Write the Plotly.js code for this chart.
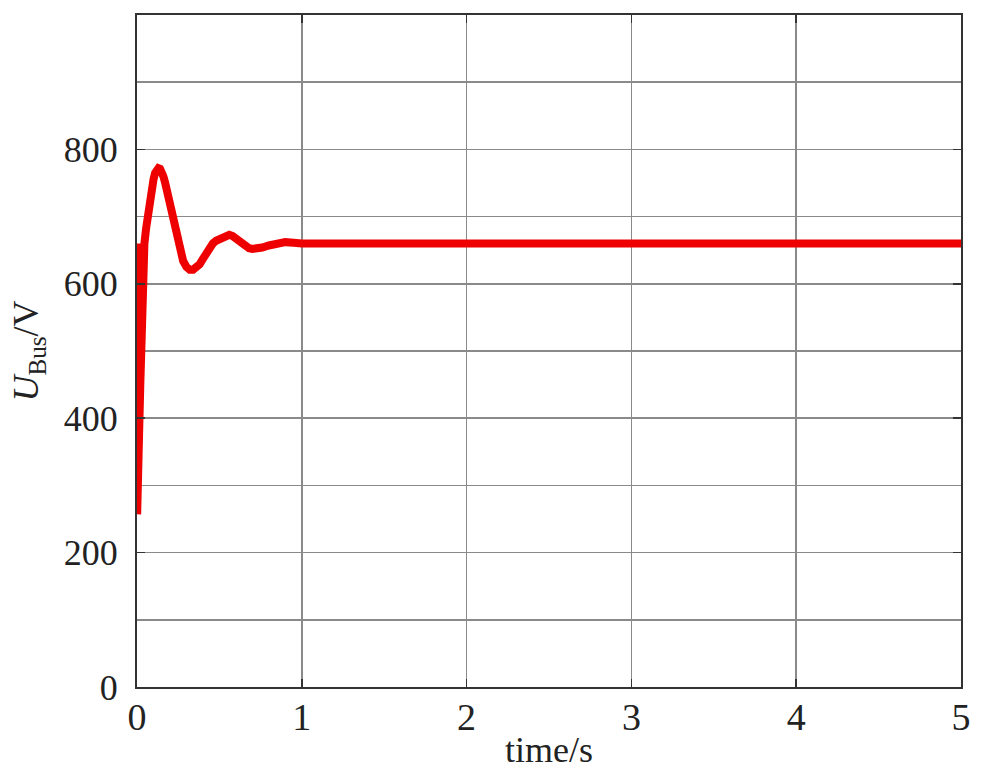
<!DOCTYPE html>
<html>
<head>
<meta charset="utf-8">
<script src="https://cdn.plot.ly/plotly-3.0.1.min.js"></script>
<style>html,body{margin:0;padding:0;background:#fff;}#chart{width:983px;height:775px;}</style>
</head>
<body>
<div id="chart"></div>
<script>
const timeS = [0, 0.001, 0.01, 0.02, 0.03, 0.045, 0.055, 0.06, 0.07, 0.08, 0.09, 0.10, 0.11, 0.12, 0.13, 0.14, 0.15, 0.16, 0.17, 0.18, 0.19, 0.20, 0.22, 0.24, 0.26, 0.28, 0.30, 0.32, 0.34, 0.36, 0.38, 0.40, 0.42, 0.44, 0.46, 0.48, 0.50, 0.52, 0.54, 0.56, 0.58, 0.60, 0.62, 0.64, 0.66, 0.68, 0.70, 0.73, 0.76, 0.80, 0.85, 0.90, 0.95, 1.0, 1.2, 1.5, 2, 2.5, 3, 3.5, 4, 4.5, 5];
const uBus = [660, 257, 350, 450, 560, 660, 682, 692, 705, 722, 740, 755, 765, 770, 772, 771, 767, 760, 751, 740, 728, 716, 692, 668, 648, 634, 625, 621, 621, 624, 629, 637, 646, 654, 660, 664, 667, 670, 672, 673, 671, 667, 662, 658, 655, 653, 652, 652, 654, 657, 660, 662, 661, 660, 660, 660, 660, 660, 660, 660, 660, 660, 660];
const xTicks = [0, 1, 2, 3, 4, 5];
const yTicks = [0, 200, 400, 600, 800];

const fontFam = '"Liberation Serif", "Times New Roman", serif';
const data = [{
  x: timeS, y: uBus, type: 'scatter', mode: 'lines',
  line: {color: '#ee0000', width: 8, shape: 'linear'},
  hoverinfo: 'skip'
}];
const layout = {
  width: 983, height: 775,
  margin: {l: 137, r: 22, t: 15, b: 88},
  paper_bgcolor: '#fff', plot_bgcolor: '#fff',
  showlegend: false,
  font: {family: fontFam, color: '#222'},
  xaxis: {
    range: [0, 5], tickvals: xTicks, ticktext: xTicks.map(String),
    showgrid: true, gridcolor: '#8a8a8a', gridwidth: 1.5,
    zeroline: false, showline: true, linecolor: '#333', linewidth: 2, mirror: 'ticks',
    ticks: 'inside', ticklen: 8, tickcolor: '#333', tickwidth: 1.5,
    ticklabelstandoff: -5,
    tickfont: {size: 38, family: fontFam, color: '#222'},
    title: {text: 'time/s', font: {size: 36, family: fontFam, color: '#222'}, standoff: 0}
  },
  yaxis: {
    range: [0, 1000], tickvals: yTicks, ticktext: yTicks.map(String),
    showgrid: true, gridcolor: '#8a8a8a', gridwidth: 1.5,
    minor: {dtick: 100, tick0: 0, showgrid: true, gridcolor: '#8a8a8a', gridwidth: 1.5, ticks: ''},
    zeroline: false, showline: true, linecolor: '#333', linewidth: 2, mirror: 'ticks',
    ticks: 'inside', ticklen: 8, tickcolor: '#333', tickwidth: 1.5,
    ticklabelstandoff: 10,
    tickfont: {size: 36, family: fontFam, color: '#222'},
    title: {text: '<i>U</i><sub>Bus</sub>/V', font: {size: 36, family: fontFam, color: '#222'}, standoff: 14}
  }
};
Plotly.newPlot('chart', data, layout, {displayModeBar: false, staticPlot: true});
</script>
</body>
</html>
